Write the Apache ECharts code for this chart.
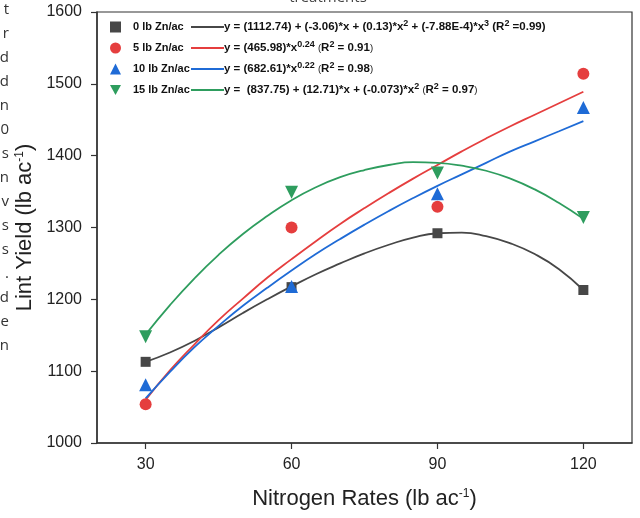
<!DOCTYPE html>
<html>
<head>
<meta charset="utf-8">
<script src="https://cdn.jsdelivr.net/npm/echarts@6/dist/echarts.min.js"></script>
<style>
  html, body { margin: 0; padding: 0; background: #fff; }
  #chart { width: 640px; height: 518px; }
</style>
</head>
<body>
<div id="chart"></div>
<script>
  // measured points
  const nRates = [30, 60, 90, 120];
  const yield0 = [1113, 1217, 1292, 1213];
  const yield5 = [1054, 1300, 1329, 1514];
  const yield10 = [1081, 1218, 1347, 1467];
  const yield15 = [1148, 1349, 1376, 1314];

  // fitted curves, every 5 lb
  const fitX = [30, 35, 40, 45, 50, 55, 60, 65, 70, 75, 80, 85, 90, 95, 100, 105, 110, 115, 120];
  const fit0 = [1113, 1126, 1142, 1161, 1181, 1200, 1218, 1235, 1250, 1264, 1276, 1286, 1292, 1293, 1288, 1278, 1263, 1242, 1213];
  const fit5 = [1060, 1101, 1137, 1171, 1201, 1230, 1256, 1281, 1305, 1327, 1348, 1368, 1387, 1406, 1424, 1441, 1457, 1473, 1489];
  const fit10 = [1062, 1099, 1133, 1163, 1191, 1216, 1240, 1263, 1284, 1304, 1323, 1341, 1358, 1374, 1390, 1406, 1420, 1434, 1448];
  const fit15 = [1151, 1192, 1229, 1262, 1291, 1316, 1338, 1356, 1370, 1380, 1387, 1391, 1390, 1386, 1379, 1368, 1353, 1334, 1312];

  const xTicks = [30, 60, 90, 120];

  const names = ["0 lb Zn/ac", "5 lb Zn/ac", "10 lb Zn/ac", "15 lb Zn/ac"];
  const colors = ["#474747", "#e53e3e", "#1f6bd6", "#2e9d5e"];
  const symbols = ["rect", "circle", "triangle", "path://M0,0L12,0L6,11Z"];
  const symbolSizes = [10, 12, 13, 13];
  const equations = [
    "y = (1112.74) + (-3.06)*x + (0.13)*x{s|2} + (-7.88E-4)*x{s|3} (R{s|2} =0.99)",
    "y = (465.98)*x{s|0.24} {p|(}R{s|2} = 0.91{p|)}",
    "y = (682.61)*x{s|0.22} {p|(}R{s|2} = 0.98{p|)}",
    "y =  (837.75) + (12.71)*x + (-0.073)*x{s|2} {p|(}R{s|2} = 0.97{p|)}"
  ];

  // bits of the surrounding page that show at the edges
  const edgeChars = ["t", "r", "d", "d", "n", "0", "s", "n", "v", "s", "s", ".", "d", "e", "n"];

  const pairs = (xs, ys) => xs.map((x, i) => [x, ys[i]]);
  const fits = [fit0, fit5, fit10, fit15];
  const points = [yield0, yield5, yield10, yield15];

  const chart = echarts.init(document.getElementById("chart"));

  const series = [];
  fits.forEach((f, i) => {
    series.push({
      name: names[i] + " fit",
      type: "line",
      data: pairs(fitX, f),
      smooth: 0.5,
      smoothConstraint: false,
      showSymbol: false,
      lineStyle: { color: colors[i], width: 1.8 },
      z: 2,
      silent: true
    });
  });
  points.forEach((p, i) => {
    series.push({
      name: names[i],
      type: "scatter",
      data: pairs(nRates, p),
      symbol: symbols[i],
      symbolSize: symbolSizes[i],
      itemStyle: { color: colors[i], opacity: 1 },
      z: 3
    });
  });

  const rich = {
    s: { fontSize: 9, fontWeight: "bold", fontFamily: "Liberation Sans", verticalAlign: "top", lineHeight: 9, color: "#111" },
    p: { fontSize: 9.5, fontWeight: "normal", fontFamily: "Liberation Sans", color: "#111" }
  };
  names.forEach((n, i) => {
    rich["n" + i] = { fontSize: 11, fontWeight: "bold", fontFamily: "Liberation Sans", width: 58, padding: [0, 0, 0, 7], color: "#111" };
    rich["l" + i] = { width: 33, height: 2, backgroundColor: colors[i] };
  });

  const graphics = [
    {
      type: "text",
      style: { text: "treatments", x: 328, y: 5, textAlign: "center", textVerticalAlign: "bottom", font: '15px "Open Sans"', fill: "#444" },
      silent: true
    }
  ];
  edgeChars.forEach((c, i) => {
    graphics.push({
      type: "text",
      style: { text: c, x: 9, y: 10 + i * 24, textAlign: "right", textVerticalAlign: "middle", font: '15px "Open Sans"', fill: "#333" },
      silent: true
    });
  });

  const supStyle = { fontSize: 12, verticalAlign: "top", lineHeight: 12, color: "#222", fontFamily: "Liberation Sans" };

  chart.setOption({
    animation: false,
    textStyle: { fontFamily: "Liberation Sans" },
    grid: { left: 97, right: 8, top: 12, bottom: 75, show: true, borderColor: "#333", borderWidth: 1.2 },
    legend: {
      data: names,
      orient: "vertical",
      left: 110,
      top: 19,
      padding: 0,
      itemGap: 5,
      itemWidth: 11,
      itemHeight: 11,
      selectedMode: false,
      formatter: function (name) {
        const i = names.indexOf(name);
        return "{n" + i + "|" + name + "}{l" + i + "|}" + equations[i];
      },
      textStyle: { fontSize: 11.5, fontWeight: "bold", fontFamily: "Liberation Sans", color: "#111", lineHeight: 16, rich: rich }
    },
    xAxis: {
      type: "value",
      min: 20,
      max: 130,
      name: "Nitrogen Rates (lb ac{sup|-1})",
      nameLocation: "middle",
      nameGap: 45,
      nameTextStyle: { fontSize: 22, color: "#222", fontFamily: "Liberation Sans", rich: { sup: supStyle } },
      axisLine: { lineStyle: { color: "#333", width: 1.5 } },
      axisTick: { show: true, length: 6, customValues: xTicks, lineStyle: { color: "#333", width: 1.2 } },
      axisLabel: { customValues: xTicks, fontSize: 16, color: "#222", margin: 14 },
      splitLine: { show: false }
    },
    yAxis: {
      type: "value",
      min: 1000,
      max: 1600,
      interval: 100,
      name: "Lint Yield (lb ac{sup|-1})",
      nameLocation: "middle",
      nameGap: 53,
      nameTextStyle: { fontSize: 22, color: "#222", fontFamily: "Liberation Sans", rich: { sup: supStyle } },
      axisLine: { show: true, lineStyle: { color: "#333", width: 1.5 } },
      axisTick: { show: true, length: 6, lineStyle: { color: "#333", width: 1.2 } },
      axisLabel: { fontSize: 16, color: "#222", margin: 15, formatter: v => String(v) },
      splitLine: { show: false }
    },
    graphic: graphics,
    series: series
  });
</script>
</body>
</html>
